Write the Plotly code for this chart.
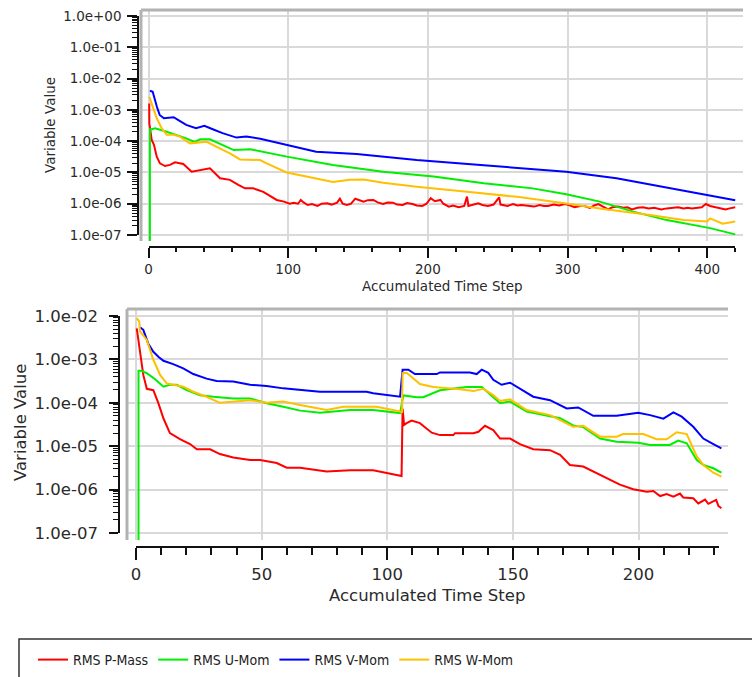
import plotly.graph_objects as go

W, H = 752, 677

# ---------------- data: top chart (run 1) ----------------
top_p_t = [0.5, 0.6, 2.3, 3.9, 5.9, 8.2, 11.8, 15.4, 19, 24.9, 30.9, 36.9, 44, 51.2, 58.3, 64.3, 69.1, 75, 79.8, 82.2, 91.8,
           97, 101, 104, 107, 109, 111, 114, 117, 121, 124, 128, 131, 135, 137, 139, 142, 145, 148, 151, 154, 157, 161,
           164, 168, 171, 175, 178, 182, 185, 189, 192, 196, 199, 202, 205, 209, 211, 215, 218, 222, 226, 228, 229, 232,
           236, 239, 243, 247, 251, 252, 257, 261, 264, 267, 271, 276, 280, 283, 286, 290, 294, 298, 301, 305, 309, 312,
           316, 319, 322, 325, 329, 332, 336, 340, 343, 346, 350, 354, 358, 362, 367, 371, 375, 379, 383, 386, 389, 393,
           396, 399, 402, 406, 409, 413, 416, 420]
top_p_v = [1.6e-3, 3.7e-4, 1.1e-4, 7.6e-5, 3.2e-5, 1.95e-5, 1.6e-5, 1.74e-5, 2.1e-5, 1.86e-5, 1.05e-5, 1.2e-5, 1.35e-5,
           6.5e-6, 5.8e-6, 4.0e-6, 3.1e-6, 3.1e-6, 2.6e-6, 2.4e-6, 1.32e-6,
           1.17e-6, 1.0e-6, 1.08e-6, 1.0e-6, 1.32e-6, 1.1e-6, 9.1e-7, 9.8e-7, 8.5e-7, 1.0e-6, 1.03e-6, 9.4e-7, 1.08e-6,
           1.45e-6, 1.0e-6, 9.1e-7, 1.0e-6, 1.45e-6, 1.3e-6, 1.17e-6, 1.3e-6, 1.32e-6, 1.1e-6, 9.8e-7, 1.1e-6, 1.08e-6,
           9.4e-7, 9.1e-7, 1.05e-6, 9.8e-7, 8.8e-7, 8.5e-7, 1.0e-6, 1.5e-6, 1.2e-6, 1.32e-6, 1.0e-6, 8.1e-7, 8.8e-7,
           7.7e-7, 8.5e-7, 1.7e-6, 8.5e-7, 9.4e-7, 1.03e-6, 9.1e-7, 8.5e-7, 9.4e-7, 1.6e-6, 9.4e-7, 8.5e-7, 9.8e-7,
           8.8e-7, 9.1e-7, 8.5e-7, 8.1e-7, 9.1e-7, 8.5e-7, 8.5e-7, 9.4e-7, 8.8e-7, 9.8e-7, 9.1e-7, 7.7e-7, 8.5e-7,
           8.5e-7, 7.4e-7, 8.8e-7, 9.8e-7, 8.1e-7, 6.6e-7, 7.7e-7, 8.1e-7, 7.4e-7, 7.7e-7, 6.6e-7, 7.4e-7, 7.7e-7,
           7.1e-7, 7.4e-7, 6.6e-7, 7.1e-7, 7.4e-7, 7.7e-7, 7.1e-7, 7.4e-7, 7.1e-7, 7.4e-7, 7.7e-7, 9.8e-7, 8.5e-7,
           7.7e-7, 7.1e-7, 6.6e-7, 7.1e-7, 7.7e-7]

top_u_t = [1, 1, 2.3, 4.7, 13, 20, 27, 33, 37, 44, 51, 61, 73, 99, 132, 168, 204, 240, 275, 299, 323, 347, 371, 402, 420]
top_u_v = [1e-9, 2.4e-4, 2.4e-4, 2.6e-4, 2.0e-4, 1.6e-4, 1.23e-4, 9.5e-5, 1.15e-4, 1.15e-4, 8.5e-5, 5.2e-5, 5.5e-5,
           3.2e-5, 1.74e-5, 1.05e-5, 7.4e-6, 4.5e-6, 3.1e-6, 2.0e-6, 1.17e-6, 5.6e-7, 3.0e-7, 1.66e-7, 1.05e-7]

top_v_t = [1, 3, 6, 8, 11, 18, 22, 27, 34, 40, 46, 53, 63, 70, 80, 99, 120, 149, 192, 240, 299, 335, 383, 420]
top_v_v = [4.1e-3, 3.8e-3, 1.26e-3, 6.9e-4, 5.4e-4, 5.8e-4, 4.5e-4, 3.3e-4, 2.6e-4, 3.1e-4, 2.4e-4, 1.8e-4, 1.3e-4,
           1.4e-4, 1.2e-4, 7.6e-5, 4.6e-5, 3.9e-5, 2.5e-5, 1.7e-5, 1.05e-5, 6.5e-6, 2.6e-6, 1.3e-6]

top_w_t = [0.6, 2.3, 5.9, 9.4, 13, 18, 22.5, 29.7, 34.5, 41.7, 48.8, 58.3, 65.5, 72.7, 79.8, 84.6, 98.9, 113, 132, 144,
           154, 168, 192, 228, 264, 299, 323, 359, 383, 400, 402, 411, 420]
top_w_v = [2.6e-3, 1.6e-3, 5.4e-4, 2.6e-4, 1.6e-4, 1.6e-4, 1.4e-4, 8.5e-5, 8.9e-5, 9.5e-5, 6.6e-5, 4.1e-5, 2.6e-5,
           2.6e-5, 2.5e-5, 1.95e-5, 1.0e-5, 7.4e-6, 5.0e-6, 5.8e-6, 6.0e-6, 4.7e-6, 3.5e-6, 2.4e-6, 1.66e-6, 1.02e-6,
           7.1e-7, 4.4e-7, 3.0e-7, 2.7e-7, 3.4e-7, 2.3e-7, 2.7e-7]

# ---------------- data: bottom chart (run 2) ----------------
bot_p_t = [0.3, 1.6, 2.9, 4.3, 6.9, 8.9, 10.9, 13.5, 17.5, 21.5, 24.2, 29.5, 33.4, 38.7, 45.4, 49.4, 56, 60, 65.3, 75.9,
           85.2, 94.4, 99.8, 105.7, 106.1, 106.7, 107.7, 109.7, 113, 117.7, 121, 126.3, 127, 134.3, 136.3, 138.9, 142.2,
           144.9, 148.9, 152.8, 158.1, 164.8, 168.8, 172.7, 178, 182, 187.3, 192.6, 197.9, 203.3, 205.9, 208.6, 211.2,
           213.9, 216.5, 217.8, 221.8, 223.8, 226.5, 227.8, 230.9, 231.8, 233]
bot_p_v = [5.2e-3, 1.5e-3, 4.4e-4, 2.1e-4, 1.95e-4, 9.8e-5, 4.4e-5, 2.0e-5, 1.45e-5, 1.12e-5, 8.5e-6, 8.5e-6, 6.6e-6,
           5.5e-6, 4.8e-6, 4.8e-6, 4.1e-6, 3.2e-6, 3.2e-6, 2.6e-6, 2.8e-6, 2.8e-6, 2.45e-6, 2.05e-6, 7.4e-5, 3.1e-5,
           3.4e-5, 3.9e-5, 3.4e-5, 2.05e-5, 1.8e-5, 1.8e-5, 2.0e-5, 2.0e-5, 2.15e-5, 2.95e-5, 2.35e-5, 1.5e-5, 1.5e-5,
           1.12e-5, 8.5e-6, 8.1e-6, 6.3e-6, 3.7e-6, 3.4e-6, 2.6e-6, 1.8e-6, 1.3e-6, 1.02e-6, 8.9e-7, 9.3e-7, 7.1e-7,
           7.9e-7, 6.9e-7, 8.1e-7, 6.6e-7, 6.3e-7, 4.8e-7, 5.9e-7, 4.7e-7, 5.8e-7, 4.2e-7, 3.7e-7]

bot_u_t = [1, 1, 2, 4.3, 7.6, 10.9, 13.5, 16.2, 20.2, 25.5, 30.8, 38.7, 45.4, 52, 58.6, 65.3, 73.2, 85.2, 94.4, 105.1,
           106.4, 111.7, 114.3, 121, 131.6, 137.6, 144.9, 148.9, 155.5, 164.8, 168.8, 174, 178, 184.7, 191.3, 199.9,
           204.6, 212.5, 215.8, 219.2, 223.2, 225.8, 229.8, 233]
bot_u_v = [1e-9, 5.5e-4, 5.5e-4, 4.8e-4, 3.5e-4, 2.35e-4, 2.6e-4, 2.6e-4, 1.95e-4, 1.5e-4, 1.38e-4, 1.26e-4, 1.26e-4,
           9.8e-5, 8.1e-5, 6.6e-5, 5.9e-5, 6.8e-5, 6.8e-5, 5.8e-5, 1.48e-4, 1.35e-4, 1.35e-4, 1.95e-4, 2.3e-4, 2.3e-4,
           9.8e-5, 1.07e-4, 6.3e-5, 5.0e-5, 4.4e-5, 3.0e-5, 2.75e-5, 1.5e-5, 1.26e-5, 1.2e-5, 1.07e-5, 1.07e-5,
           1.35e-5, 1.17e-5, 4.8e-6, 3.7e-6, 3.1e-6, 2.45e-6]

bot_v_t = [1.6, 2.9, 4.9, 6.9, 8.9, 10.9, 14.8, 18.8, 22.8, 28.1, 32.1, 38.7, 45.4, 52, 58.6, 65.3, 73.2, 91.8, 94.4,
           105.1, 106.1, 108.4, 111, 119.7, 121, 132.9, 135.6, 137.6, 140.2, 142.2, 145.5, 148.9, 152.8, 158.1, 164.8,
           171.4, 176, 182, 191.3, 199.9, 204.6, 209.9, 213.9, 217.2, 221.8, 225.8, 229.8, 233]
bot_v_v = [5.5e-3, 4.8e-3, 2.3e-3, 1.5e-3, 1.15e-3, 9.3e-4, 7.8e-4, 6.2e-4, 4.6e-4, 3.6e-4, 3.2e-4, 3.1e-4, 2.6e-4,
           2.45e-4, 2.15e-4, 2.0e-4, 1.8e-4, 1.8e-4, 1.66e-4, 1.38e-4, 5.8e-4, 5.8e-4, 4.6e-4, 4.6e-4, 5.0e-4, 5.0e-4,
           4.6e-4, 5.8e-4, 4.9e-4, 3.4e-4, 2.6e-4, 2.9e-4, 2.15e-4, 1.38e-4, 1.15e-4, 7.4e-5, 7.8e-5, 5.0e-5, 5.0e-5,
           5.9e-5, 5.2e-5, 4.3e-5, 6.0e-5, 4.8e-5, 2.8e-5, 1.5e-5, 1.12e-5, 8.9e-6]

bot_w_t = [0.3, 1.3, 1.6, 4.3, 6.9, 9.6, 12.2, 14.8, 18.8, 22.8, 28.1, 33.4, 38.7, 45.4, 52, 58.6, 65.3, 75.9, 82.5,
           95.8, 105.1, 105.9, 106.1, 107.7, 113, 118.3, 129, 134.3, 138.2, 142.2, 144.9, 148.9, 155.5, 164.8, 168.8,
           174, 178, 184.7, 191.3, 193.9, 201.9, 207.2, 211.2, 215.2, 219.2, 223.2, 225.8, 229.8, 233]
bot_w_v = [8.9e-3, 7.4e-3, 4.4e-3, 2.8e-3, 9.8e-4, 4.4e-4, 2.8e-4, 2.6e-4, 2.35e-4, 1.8e-4, 1.38e-4, 1.0e-4, 1.07e-4,
           1.15e-4, 1.0e-4, 1.07e-4, 8.9e-5, 6.8e-5, 8.1e-5, 8.1e-5, 6.3e-5, 5.9e-5, 4.8e-4, 4.9e-4, 2.7e-4, 2.3e-4,
           2.05e-4, 1.86e-4, 2.1e-4, 1.5e-4, 1.1e-4, 1.2e-4, 6.8e-5, 5.2e-5, 4.0e-5, 2.8e-5, 2.95e-5, 1.66e-5,
           1.66e-5, 1.9e-5, 1.9e-5, 1.45e-5, 1.45e-5, 2.1e-5, 1.9e-5, 5.8e-6, 3.7e-6, 2.45e-6, 2.0e-6]

series_names = ["RMS P-Mass", "RMS U-Mom", "RMS V-Mom", "RMS W-Mom"]
series_colors = ["#ff0000", "#00ee00", "#0000ff", "#ffc000"]

top_y_ticks = [1e0, 1e-1, 1e-2, 1e-3, 1e-4, 1e-5, 1e-6, 1e-7]
top_y_labels = ["1.0e+00", "1.0e-01", "1.0e-02", "1.0e-03", "1.0e-04", "1.0e-05", "1.0e-06", "1.0e-07"]
bot_y_ticks = [1e-2, 1e-3, 1e-4, 1e-5, 1e-6, 1e-7]
bot_y_labels = ["1.0e-02", "1.0e-03", "1.0e-04", "1.0e-05", "1.0e-06", "1.0e-07"]

x_title = "Accumulated Time Step"
y_title = "Variable Value"

# ---------------- helpers (pixel -> paper) ----------------
def fx(p):
    return p / W

def fy(p):
    return 1 - p / H

FONT = "DejaVu Sans"
TXT = "#2a2a2a"
GRID = "#d9d9d9"
FRAME = "#b2b2b2"

fig = go.Figure()

top = [(top_p_t, top_p_v), (top_u_t, top_u_v), (top_v_t, top_v_v), (top_w_t, top_w_v)]
bot = [(bot_p_t, bot_p_v), (bot_u_t, bot_u_v), (bot_v_t, bot_v_v), (bot_w_t, bot_w_v)]

for i, (t, v) in enumerate(top):
    fig.add_trace(go.Scatter(x=t, y=v, mode="lines", name=series_names[i],
                             line=dict(color=series_colors[i], width=2), xaxis="x", yaxis="y",
                             legendrank=i + 1))
for i, (t, v) in enumerate(bot):
    fig.add_trace(go.Scatter(x=t, y=v, mode="lines", name=series_names[i], showlegend=False,
                             line=dict(color=series_colors[i], width=2), xaxis="x2", yaxis="y2"))

# empty carriers for the offset (visible) axes
fig.add_trace(go.Scatter(x=[], y=[], xaxis="x3", yaxis="y3", showlegend=False, hoverinfo="skip"))
fig.add_trace(go.Scatter(x=[], y=[], xaxis="x4", yaxis="y4", showlegend=False, hoverinfo="skip"))

# ---- top chart geometry ----
T_L, T_R, T_T, T_B = 141, 743, 10, 241          # plot frame
T_X0, T_XS = 148.5, 1.397                         # px of t=0, px per unit
T_Y0, T_YS = 16, 31.29                            # px of 1e0, px per decade
# ---- bottom chart geometry ----
B_L, B_R, B_T, B_B = 127, 728, 309, 540
B_X0, B_XS = 136, 2.5125
B_Y0, B_YS = 316, 43.4                            # px of 1e-2

minor_top = [m * 10.0 ** e for e in range(-7, 0) for m in range(2, 10)]
minor_bot = [m * 10.0 ** e for e in range(-7, -2) for m in range(2, 10)]

grid_common = dict(showgrid=True, gridcolor=GRID, gridwidth=1.5, showticklabels=False, ticks="",
                   zeroline=False, showline=False, fixedrange=True)
axis_common = dict(showgrid=False, zeroline=False, showline=True, linecolor="#111", linewidth=1.5,
                   ticks="outside", tickcolor="#111", tickwidth=1.5, anchor="free", fixedrange=True,
                   automargin=False)

fig.update_layout(
    width=W, height=H, margin=dict(l=0, r=0, t=0, b=0, pad=0, autoexpand=False),
    paper_bgcolor="white", plot_bgcolor="rgba(0,0,0,0)",
    font=dict(family=FONT, color=TXT),
    # top grid axes
    xaxis=dict(domain=[fx(T_L), fx(T_R)], range=[(T_L - T_X0) / T_XS, (T_R - T_X0) / T_XS],
               tick0=0, dtick=100, anchor="y", **grid_common),
    yaxis=dict(domain=[fy(T_B), fy(T_T)], type="log",
               range=[-(T_B - T_Y0) / T_YS, (T_Y0 - T_T) / T_YS], dtick=1, anchor="x", **grid_common),
    # bottom grid axes
    xaxis2=dict(domain=[fx(B_L), fx(B_R)], range=[(B_L - B_X0) / B_XS, (B_R - B_X0) / B_XS],
                tick0=0, dtick=50, anchor="y2", **grid_common),
    yaxis2=dict(domain=[fy(B_B), fy(B_T)], type="log",
                range=[-2 - (B_B - B_Y0) / B_YS, -2 + (B_Y0 - B_T) / B_YS], dtick=1, anchor="x2", **grid_common),
    # top visible axes
    xaxis3=dict(domain=[fx(T_X0), fx(T_X0 + 420 * T_XS)], range=[0, 420], position=fy(247),
                tick0=0, dtick=100, ticklen=10, tickfont=dict(size=13.5, color=TXT), ticklabelstandoff=0,
                minor=dict(dtick=20, tick0=0, ticks="outside", ticklen=4, tickcolor="#111", tickwidth=1.5),
                **axis_common),
    yaxis3=dict(domain=[fy(T_Y0 + 7 * T_YS), fy(T_Y0)], type="log", range=[-7, 0], position=fx(138),
                tickmode="array", tickvals=top_y_ticks, ticktext=top_y_labels, ticklen=10,
                tickfont=dict(size=13.5, color=TXT), ticklabelstandoff=3,
                minor=dict(tickmode="array", tickvals=minor_top, ticks="outside", ticklen=5,
                           tickcolor="#111", tickwidth=1),
                **axis_common),
    # bottom visible axes
    xaxis4=dict(domain=[fx(B_X0), fx(B_X0 + 232 * B_XS)], range=[0, 232], position=fy(547),
                tick0=0, dtick=50, ticklen=12, tickfont=dict(size=16.5, color=TXT), ticklabelstandoff=0,
                minor=dict(dtick=10, tick0=0, ticks="outside", ticklen=7, tickcolor="#111", tickwidth=1.5),
                **axis_common),
    yaxis4=dict(domain=[fy(B_Y0 + 5 * B_YS), fy(B_Y0)], type="log", range=[-7, -2], position=fx(119),
                tickmode="array", tickvals=bot_y_ticks, ticktext=bot_y_labels, ticklen=9,
                tickfont=dict(size=16.5, color=TXT), ticklabelstandoff=8,
                minor=dict(tickmode="array", tickvals=minor_bot, ticks="outside", ticklen=5,
                           tickcolor="#111", tickwidth=1),
                **axis_common),
    legend=dict(orientation="h", x=fx(33), y=fy(660), xanchor="left", yanchor="middle",
                font=dict(family="Liberation Sans Narrow, DejaVu Sans Condensed, Liberation Sans", size=14,
                          color="#222"),
                bgcolor="rgba(0,0,0,0)", borderwidth=0, itemclick=False, itemdoubleclick=False),
    showlegend=True,
)

shapes = [
    # top frame (top & left bevel)
    dict(type="line", xref="paper", yref="paper", x0=fx(T_L), x1=fx(T_R), y0=fy(T_T), y1=fy(T_T),
         line=dict(color=FRAME, width=3), layer="above"),
    dict(type="line", xref="paper", yref="paper", x0=fx(T_L), x1=fx(T_L), y0=fy(T_T), y1=fy(T_B),
         line=dict(color=FRAME, width=3), layer="above"),
    # bottom frame
    dict(type="line", xref="paper", yref="paper", x0=fx(B_L), x1=fx(B_R), y0=fy(B_T), y1=fy(B_T),
         line=dict(color=FRAME, width=3), layer="above"),
    dict(type="line", xref="paper", yref="paper", x0=fx(B_L), x1=fx(B_L), y0=fy(B_T), y1=fy(B_B),
         line=dict(color=FRAME, width=3), layer="above"),
    # legend box
    dict(type="rect", xref="paper", yref="paper", x0=fx(19), x1=fx(770), y0=fy(639), y1=fy(700),
         line=dict(color="#333", width=1.5), fillcolor="rgba(0,0,0,0)", layer="above"),
]
fig.update_layout(shapes=shapes)

annotations = [
    dict(text=y_title, x=fx(50), y=fy(125), textangle=-90, font=dict(size=13.5, color=TXT)),
    dict(text=x_title, x=fx(442), y=fy(286), font=dict(size=13.5, color=TXT)),
    dict(text=y_title, x=fx(20), y=fy(423), textangle=-90, font=dict(size=16.5, color=TXT)),
    dict(text=x_title, x=fx(427), y=fy(595), font=dict(size=16.5, color=TXT)),
]
for a in annotations:
    a.update(xref="paper", yref="paper", showarrow=False, xanchor="center", yanchor="middle")
fig.update_layout(annotations=annotations)

fig.write_html("out.html")
